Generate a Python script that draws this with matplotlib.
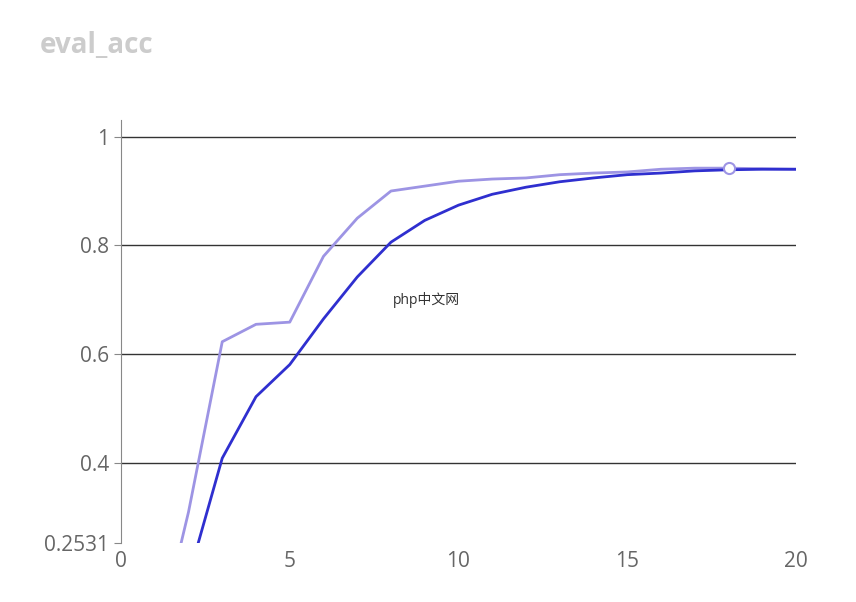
import matplotlib
matplotlib.use("Agg")
import matplotlib.pyplot as plt

plt.rcParams['font.family'] = ['Open Sans', 'Noto Sans CJK SC', 'DejaVu Sans']

steps = list(range(1, 21))
light = [0.05, 0.31, 0.623, 0.655, 0.659, 0.78, 0.85, 0.90, 0.909, 0.918, 0.922, 0.924,
         0.93, 0.933, 0.935, 0.94, 0.942, 0.942, 0.941, 0.94]
dark = [0.0, 0.19, 0.409, 0.522, 0.581, 0.665, 0.742, 0.806, 0.846, 0.874, 0.894, 0.907,
        0.917, 0.924, 0.93, 0.933, 0.937, 0.939, 0.94, 0.94]
yticks = [0.2531, 0.4, 0.6, 0.8, 1]
ylabels = ["0.2531", "0.4", "0.6", "0.8", "1"]
xticks = [0, 5, 10, 15, 20]

fig = plt.figure(figsize=(8.56, 6.02), dpi=100)
ax = fig.add_axes([121/856, 1-543/602, (796-121)/856, (543-120)/602])
ax.plot(steps, light, color="#9d94e4", lw=2, zorder=3)
ax.plot(steps, dark, color="#2f2fcf", lw=2, zorder=3)
ax.plot([steps[17]], [light[17]], 'o', ms=8, mfc="white", mec="#9d94e4", mew=1.5, zorder=4)
ax.set_xlim(0, 20)
ax.set_ylim(0.2531, 1.0305)
ax.set_yticks(yticks, ylabels)
ax.set_xticks(xticks)
for y in yticks[1:]:
    ax.axhline(y, color="#333333", lw=1, zorder=1)
for s in ["top", "right", "bottom"]:
    ax.spines[s].set_visible(False)
ax.spines["left"].set_color("#888888")
ax.tick_params(axis="both", labelsize=15, labelcolor="#666666", color="#888888")
ax.tick_params(axis="x", length=0, pad=6)
ax.tick_params(axis="y", length=5)
fig.text(40/856, 1-45/602, "eval_acc", fontsize=20, fontweight="bold", color="#cccccc", va="center")
fig.text(426/856, 1-300/602, "php中文网", fontsize=10, color="#333333", ha="center", va="center")
fig.savefig("out.png", dpi=100)
